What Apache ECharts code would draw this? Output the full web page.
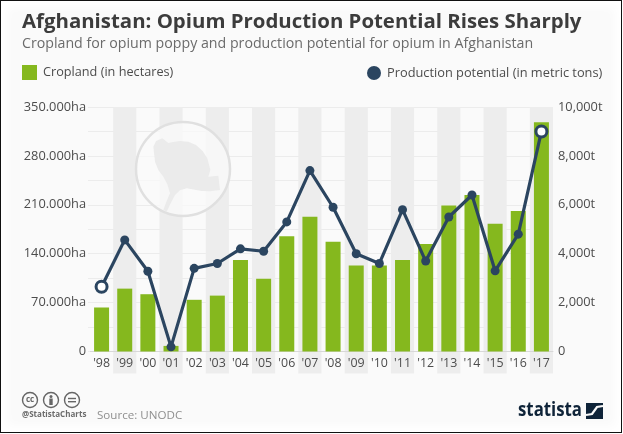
<!DOCTYPE html>
<html>
<head>
<meta charset="utf-8">
<title>Afghanistan: Opium Production Potential Rises Sharply</title>
<script src="https://cdn.jsdelivr.net/npm/echarts@6/dist/echarts.min.js"></script>
<style>
    html, body {margin: 0; padding: 0; background: #fff;}
    #frame {position: absolute; left: 0; top: 0; width: 622px; height: 433px; box-sizing: border-box;
        border: 1.5px solid #111; background: #fafafa; box-shadow: inset 0 0 10px 6px #fff;}
    #chart {position: absolute; left: 0; top: 0; width: 623px; height: 434px;}
</style>
</head>
<body>
<div id="frame"></div>
<div id="chart"></div>
<script>
var FONT = '"Open Sans", sans-serif';
var NAVY = '#2b4560';
var GREEN = '#85b81e';
var GREY = '#e0e0e0';

var years = ["'98", "'99", "'00", "'01", "'02", "'03", "'04", "'05", "'06", "'07",
    "'08", "'09", "'10", "'11", "'12", "'13", "'14", "'15", "'16", "'17"];
var cropland = [63000, 90000, 82000, 8000, 74000, 80000, 131000, 104000, 165000, 193000,
    157000, 123000, 123000, 131000, 154000, 209000, 224000, 183000, 201000, 328000];
var production = [2650, 4565, 3280, 190, 3400, 3600, 4200, 4100, 5300, 7400,
    5900, 4000, 3600, 5800, 3700, 5500, 6400, 3300, 4800, 9000];

// every second year gets a grey stripe, running down behind the year label
function renderStripe(params, api) {
    var top = api.coord([api.value(0), 350000]);
    var bottom = api.coord([api.value(0), 0]);
    var width = api.size([1, 0])[0];
    return {
        type: 'rect',
        shape: {x: top[0] - width / 2, y: top[1], width: width, height: bottom[1] - top[1] + 22},
        style: {fill: '#ededed'}
    };
}
var stripes = [];
for (var i = 1; i < years.length; i += 2) {
    stripes.push([years[i]]);
}

function ringPoint(value) {
    return {
        value: value,
        symbolSize: 11,
        itemStyle: {color: '#fff', borderColor: NAVY, borderWidth: 3}
    };
}
var lineData = production.slice();
lineData[0] = ringPoint(production[0]);
lineData[lineData.length - 1] = ringPoint(production[production.length - 1]);

function ccBadge(cx, inner) {
    return [{
        type: 'circle', shape: {cx: cx, cy: 400, r: 7.5}, style: {fill: 'none', stroke: '#666', lineWidth: 1.4}
    }].concat(inner);
}

// poppy outline, in 3x pixels of the icon box
var poppy = [[70, 95], [78, 78], [97, 70], [115, 84], [125, 82], [150, 78], [175, 80], [198, 90], [218, 108],
    [232, 130], [241, 165], [235, 185], [265, 182], [270, 225], [240, 229], [215, 228], [170, 220], [150, 226],
    [135, 240], [122, 265], [110, 290], [100, 285], [110, 258], [120, 235], [112, 208], [100, 185], [85, 165], [75, 140]];

var badges = ccBadge(30, [{
    type: 'text', style: {x: 30, y: 400, text: 'cc', fill: '#666', font: 'bold 8px ' + FONT, textAlign: 'center', textVerticalAlign: 'middle'}
}]).concat(ccBadge(51, [
    {type: 'circle', shape: {cx: 51, cy: 396.5, r: 1.5}, style: {fill: '#666'}},
    {type: 'rect', shape: {x: 49.3, y: 398.5, width: 3.4, height: 6.5}, style: {fill: '#666'}}
])).concat(ccBadge(72, [
    {type: 'rect', shape: {x: 68, y: 397.8, width: 8, height: 1.4}, style: {fill: '#666'}},
    {type: 'rect', shape: {x: 68, y: 401, width: 8, height: 1.4}, style: {fill: '#666'}}
]));

var chart = echarts.init(document.getElementById('chart'), null, {renderer: 'canvas'});
chart.setOption({
    animation: false,
    backgroundColor: 'transparent',
    textStyle: {fontFamily: FONT},
    title: [{
        text: 'Afghanistan: Opium Production Potential Rises Sharply',
        left: 17, top: 7,
        textStyle: {fontFamily: FONT, fontSize: 20.4, fontWeight: 'bold', color: '#3c3c3c'}
    }, {
        text: 'Cropland for opium poppy and production potential for opium in Afghanistan',
        left: 17, top: 32,
        textStyle: {fontFamily: FONT, fontSize: 14.2, fontWeight: 'normal', color: '#6b6b6b'}
    }],
    legend: [{
        data: ['Cropland (in hectares)'],
        left: 22, top: 65,
        itemWidth: 15, itemHeight: 15, itemGap: 6,
        icon: 'rect',
        textStyle: {fontFamily: FONT, fontSize: 12.7, color: '#4c4c4c', padding: [0, 0, 0, 1]},
        padding: 0, selectedMode: false
    }, {
        data: ['Production potential (in metric tons)'],
        left: 367, top: 66,
        itemWidth: 14, itemHeight: 14, itemGap: 6,
        icon: 'circle',
        textStyle: {fontFamily: FONT, fontSize: 12.8, color: '#4c4c4c', padding: [0, 0, 0, 1]},
        padding: 0, selectedMode: false
    }],
    grid: {left: 90, right: 70, top: 107, bottom: 82.5},
    xAxis: {
        type: 'category',
        data: years,
        axisLine: {lineStyle: {color: '#d8d8d8', width: 1}},
        axisTick: {show: false},
        axisLabel: {color: '#4c4c4c', fontSize: 12.4, fontFamily: FONT, margin: 6, interval: 0}
    },
    yAxis: [{
        type: 'value',
        min: 0, max: 350000, interval: 35000,
        axisLine: {show: false},
        axisTick: {show: true, length: 2, lineStyle: {color: '#ececec'}},
        splitLine: {lineStyle: {color: '#ececec', width: 1}},
        axisLabel: {
            color: '#4c4c4c', fontSize: 12.8, fontFamily: FONT, margin: 4, showMinLabel: true,
            formatter: function (v) {
                if (v === 0) return '0';
                if (v % 70000 !== 0) return '';
                return (v / 1000) + '.000ha';
            }
        }
    }, {
        type: 'value',
        min: 0, max: 10000, interval: 1000,
        axisLine: {show: false},
        axisTick: {show: false},
        splitLine: {show: false},
        axisLabel: {
            color: '#4c4c4c', fontSize: 12.8, fontFamily: FONT, margin: 5,
            formatter: function (v) {
                if (v === 0) return '0';
                if (v % 2000 !== 0) return '';
                return (v / 1000) + ',000t';
            }
        }
    }],
    series: [{
        type: 'custom',
        name: 'stripes',
        z: 0,
        silent: true,
        clip: false,
        renderItem: renderStripe,
        encode: {x: 0},
        data: stripes
    }, {
        type: 'bar',
        name: 'Cropland (in hectares)',
        z: 2,
        barWidth: 15,
        itemStyle: {color: GREEN},
        data: cropland
    }, {
        type: 'line',
        name: 'Production potential (in metric tons)',
        yAxisIndex: 1,
        z: 3,
        symbol: 'circle',
        symbolSize: 9,
        lineStyle: {color: NAVY, width: 3.2},
        itemStyle: {color: NAVY},
        data: lineData
    }],
    graphic: [{
        type: 'circle', z: 1, silent: true,
        shape: {cx: 183, cy: 169, r: 47},
        style: {fill: 'rgba(250,250,250,0.75)', stroke: GREY, lineWidth: 2.5}
    }, {
        type: 'polygon', z: 1, silent: true, x: 130, y: 115, scaleX: 1 / 3, scaleY: 1 / 3,
        shape: {points: poppy},
        style: {fill: '#ebebeb'}
    }, {
        type: 'group', silent: true, children: badges
    }, {
        type: 'text', silent: true,
        style: {x: 22, y: 411, text: '@StatistaCharts', fill: '#6b6b6b', font: 'bold 8px ' + FONT}
    }, {
        type: 'text', silent: true,
        style: {x: 97, y: 410, text: 'Source: UNODC', fill: '#8f8f8f', font: '11.6px ' + FONT}
    }, {
        type: 'text', silent: true, x: 518, y: 400, scaleX: 0.84,
        style: {x: 0, y: 0, text: 'statista', fill: '#0e2338', font: 'bold 20px ' + FONT}
    }, {
        type: 'rect', silent: true,
        shape: {x: 586, y: 403, width: 17, height: 16},
        style: {fill: '#0e2338'}
    }, {
        type: 'polyline', silent: true,
        shape: {points: [[586, 415], [592, 414], [597, 407], [603, 406]]},
        style: {fill: 'none', stroke: '#fafafa', lineWidth: 2.2}
    }]
});
</script>
</body>
</html>
